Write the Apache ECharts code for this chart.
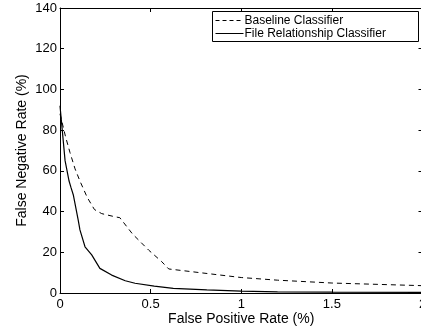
<!DOCTYPE html>
<html><head><meta charset="utf-8">
<script src="https://cdn.jsdelivr.net/npm/echarts@6/dist/echarts.min.js"></script>
<style>html,body{margin:0;padding:0;background:#fff}#c{width:421px;height:332px}</style>
</head><body><div id="c"></div>
<script>
const seriesNames = ['Baseline Classifier', 'File Relationship Classifier'];
const baselineX = [0, 0.03, 0.055, 0.083, 0.11, 0.13, 0.15, 0.19, 0.23, 0.3, 0.33, 0.4, 0.49, 0.56, 0.6, 0.8, 1.0, 1.2, 1.5, 2.0];
const baselineY = [88, 77, 69, 61, 55, 51, 47, 41, 39, 37.5, 37, 29, 21, 15.5, 11.8, 9.7, 7.6, 6.3, 4.9, 3.6];
const fileRelX = [0, 0.028, 0.05, 0.06, 0.074, 0.1, 0.11, 0.138, 0.175, 0.22, 0.285, 0.36, 0.414, 0.52, 0.625, 0.81, 1.0, 1.2, 1.5, 2.0];
const fileRelY = [92, 65, 55, 52, 48, 36, 31, 22.7, 18.7, 12.1, 8.8, 6, 4.8, 3.4, 2.3, 1.5, 0.9, 0.6, 0.4, 0.3];
const xTitle = 'False Positive Rate (%)';
const yTitle = 'False Negative Rate (%)';

const F = 'Liberation Sans, Arial, Helvetica, sans-serif';
const axisCommon = {
  axisLine: {show: true, onZero: false, lineStyle: {color: '#000', width: 1}},
  axisTick: {show: true, inside: true, length: 4, lineStyle: {color: '#000'}},
  splitLine: {show: false}
};
// legend box drawn as graphic (MATLAB style)
const LX = 212, LY = 11, LW = 206, LH = 30;
const legendGraphic = {
  type: 'group', left: LX, top: LY, children: [
    {type: 'rect', shape: {x: 0, y: 0, width: LW, height: LH}, style: {fill: '#fff', stroke: '#000', lineWidth: 1}},
    {type: 'line', shape: {x1: 3, y1: 9, x2: 31, y2: 9}, style: {stroke: '#000', lineWidth: 1, lineDash: [4, 3]}},
    {type: 'text', x: 32, y: 9, style: {text: seriesNames[0], font: '12px ' + F, fill: '#000', verticalAlign: 'middle'}},
    {type: 'line', shape: {x1: 3, y1: 22, x2: 31, y2: 22}, style: {stroke: '#000', lineWidth: 1}},
    {type: 'text', x: 32, y: 22, style: {text: seriesNames[1], font: '12px ' + F, fill: '#000', verticalAlign: 'middle'}}
  ]
};
const chart = echarts.init(document.getElementById('c'), null, {renderer: 'canvas'});
chart.setOption({
  animation: false,
  backgroundColor: '#fff',
  grid: {left: 60, top: 8, width: 362.5, height: 285, containLabel: false, outerBoundsMode: 'none'},
  graphic: [legendGraphic],
  xAxis: [
    Object.assign({type: 'value', position: 'bottom', min: 0, max: 2, interval: 0.5,
      name: xTitle, nameLocation: 'middle', nameGap: 19, nameMoveOverlap: false,
      nameTextStyle: {fontFamily: F, fontSize: 14, color: '#000'},
      axisLabel: {fontFamily: F, fontSize: 13, color: '#000', margin: 5, showMaxLabel: true}}, axisCommon),
    Object.assign({type: 'value', position: 'top', min: 0, max: 2, interval: 0.5,
      axisLabel: {show: false}}, axisCommon)
  ],
  yAxis: [
    Object.assign({type: 'value', position: 'left', min: 0, max: 140, interval: 20,
      name: yTitle, nameLocation: 'middle', nameGap: 31, nameMoveOverlap: false,
      nameTextStyle: {fontFamily: F, fontSize: 14, color: '#000'},
      axisLabel: {fontFamily: F, fontSize: 13, color: '#000', margin: 3}}, axisCommon),
    Object.assign({type: 'value', position: 'right', min: 0, max: 140, interval: 20,
      axisLabel: {show: false}}, axisCommon)
  ],
  series: [
    {name: seriesNames[0], type: 'line', symbol: 'none', showSymbol: false,
     data: baselineX.map((x, i) => [x, baselineY[i]]),
     lineStyle: {color: '#000', width: 1, type: [5, 4]}, itemStyle: {color: '#000'}},
    {name: seriesNames[1], type: 'line', symbol: 'none', showSymbol: false,
     data: fileRelX.map((x, i) => [x, fileRelY[i]]),
     lineStyle: {color: '#000', width: 1.2, type: 'solid'}, itemStyle: {color: '#000'}}
  ]
});
</script></body></html>
